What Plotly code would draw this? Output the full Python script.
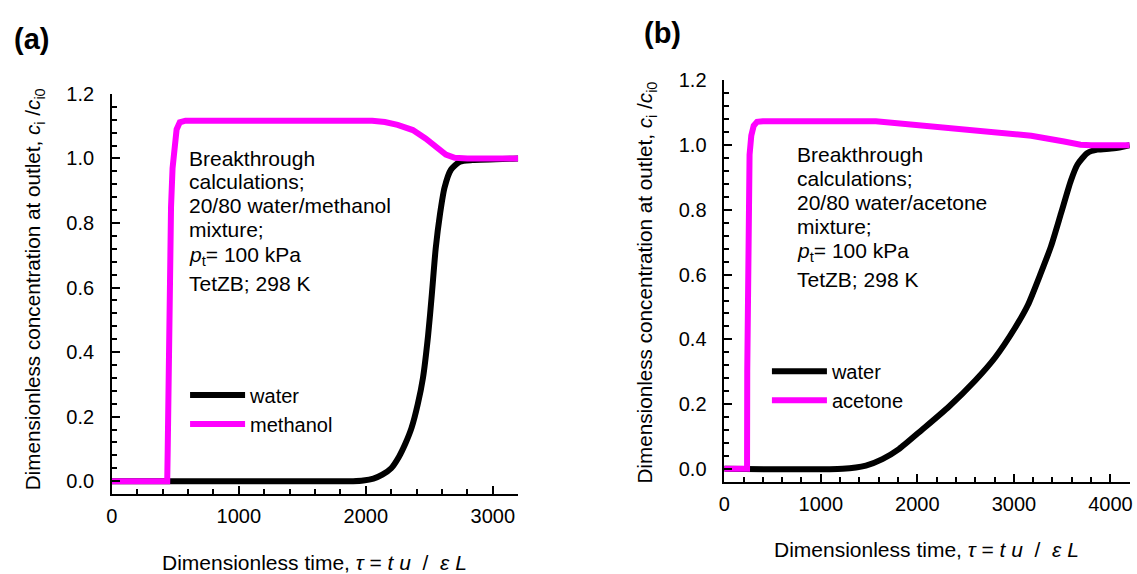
import plotly.graph_objects as go

W, H = 1137, 574

# ---- panel (a): 20/80 water/methanol, TetZB, 298 K ----
tau_a_water = [0, 1900, 1980, 2060, 2130, 2200, 2260, 2310, 2360, 2410, 2450,
               2490, 2520, 2550, 2585, 2620, 2670, 2740, 2840, 3200]
c_a_water = [0.0, 0.0, 0.002, 0.008, 0.02, 0.04, 0.075, 0.115, 0.165, 0.24, 0.32,
             0.45, 0.58, 0.72, 0.83, 0.91, 0.965, 0.99, 0.995, 1.0]

tau_a_methanol = [0, 436, 440, 447, 455, 466, 478, 492, 510, 535, 580, 2050,
                  2150, 2250, 2370, 2470, 2550, 2630, 2700, 2800, 3200]
c_a_methanol = [0.0, 0.0, 0.1, 0.35, 0.62, 0.85, 0.97, 1.04, 1.09, 1.112, 1.117, 1.117,
                1.113, 1.104, 1.088, 1.062, 1.035, 1.012, 1.002, 1.0, 1.0]

# ---- panel (b): 20/80 water/acetone, TetZB, 298 K ----
tau_b_water = [0, 1226, 1467, 1638, 1809, 2049, 2326, 2600, 2806, 3011, 3145,
               3282, 3385, 3488, 3590, 3659, 3762, 3864, 4036, 4200]
c_b_water = [0.0, 0.0, 0.01, 0.03, 0.061, 0.121, 0.192, 0.273, 0.344, 0.435, 0.506,
             0.607, 0.688, 0.789, 0.89, 0.94, 0.976, 0.986, 0.99, 1.0]

tau_b_acetone = [0, 236, 238, 242, 250, 262, 280, 305, 340, 400, 1570, 2150,
                 2840, 3180, 3520, 3690, 3800, 4200]
c_b_acetone = [0.0, 0.0, 0.3, 0.6, 0.85, 0.97, 1.03, 1.06, 1.072, 1.074, 1.074, 1.058,
               1.042, 1.029, 1.011, 1.001, 1.0, 1.0]

x_ticks_a = [0, 1000, 2000, 3000]
x_ticks_b = [0, 1000, 2000, 3000, 4000]
y_ticks = [0.0, 0.2, 0.4, 0.6, 0.8, 1.0, 1.2]
y_tick_labels = ["0.0", "0.2", "0.4", "0.6", "0.8", "1.0", "1.2"]

notes_a = ["Breakthrough", "calculations;", "20/80 water/methanol", "mixture;",
           "<i>p</i><sub>t</sub>= 100 kPa", "TetZB; 298 K"]
notes_b = ["Breakthrough", "calculations;", "20/80 water/acetone", "mixture;",
           "<i>p</i><sub>t</sub>= 100 kPa", "TetZB; 298 K"]

y_title = "Dimensionless concentration at outlet, <i>c</i><sub>i</sub> /<i>c</i><sub>i0</sub>"
x_title = "Dimensionless time, <i>τ</i> = <i>t</i> <i>u</i>  /  <i>ε</i> <i>L</i>"

FONT = "Liberation Sans, Arial, sans-serif"
BLACK = "#000000"
MAGENTA = "#FF00FF"


def fx(px):
    return px / W


def fy(py):
    return 1 - py / H


fig = go.Figure()

# water curves are smooth S-shapes; the co-adsorbate curves have a sharp front
water_style = dict(color=BLACK, width=6, shape="spline", smoothing=0.6)
front_style = dict(color=MAGENTA, width=6, shape="linear")

fig.add_trace(go.Scatter(x=tau_a_water, y=c_a_water, mode="lines", name="water",
                         line=water_style, xaxis="x", yaxis="y", legend="legend"))
fig.add_trace(go.Scatter(x=tau_a_methanol, y=c_a_methanol, mode="lines", name="methanol",
                         line=front_style, xaxis="x", yaxis="y", legend="legend"))
fig.add_trace(go.Scatter(x=tau_b_water, y=c_b_water, mode="lines", name="water",
                         line=water_style, xaxis="x2", yaxis="y2", legend="legend2"))
fig.add_trace(go.Scatter(x=tau_b_acetone, y=c_b_acetone, mode="lines", name="acetone",
                         line=front_style, xaxis="x2", yaxis="y2", legend="legend2"))

axis_common = dict(
    showline=True, linecolor=BLACK, linewidth=1.5, showgrid=False, zeroline=False,
    ticks="inside", ticklen=8, tickwidth=1.5, tickcolor=BLACK,
    tickfont=dict(family=FONT, size=20, color=BLACK),
)
x_minor = dict(dtick=200, tick0=0, ticks="inside", ticklen=5, tickwidth=1.5, tickcolor=BLACK)
y_minor = dict(dtick=0.04, tick0=0, ticks="inside", ticklen=5, tickwidth=1.5, tickcolor=BLACK)
legend_common = dict(xanchor="left", yanchor="top", bgcolor="rgba(0,0,0,0)",
                     font=dict(family=FONT, size=20, color=BLACK),
                     itemwidth=55, tracegroupgap=0)

fig.update_layout(
    width=W, height=574,
    margin=dict(l=0, r=0, t=0, b=0),
    paper_bgcolor="white", plot_bgcolor="white",
    font=dict(family=FONT, color=BLACK),
    xaxis=dict(domain=[fx(106.7), fx(516.3)], range=[0, 3200], anchor="y",
               tickvals=x_ticks_a, ticktext=[str(v) for v in x_ticks_a],
               minor=x_minor, ticklabelstandoff=3, **axis_common),
    yaxis=dict(domain=[fy(492.5), fy(84.5)], range=[-0.04, 1.2001], anchor="x",
               tickvals=y_ticks, ticktext=y_tick_labels,
               minor=y_minor, ticklabelstandoff=12, **axis_common),
    xaxis2=dict(domain=[fx(724), fx(1132.7)], range=[0, 4200], anchor="y2",
                tickvals=x_ticks_b, ticktext=[str(v) for v in x_ticks_b],
                minor=x_minor, ticklabelstandoff=3, **axis_common),
    yaxis2=dict(domain=[fy(480), fy(70.7)], range=[-0.04, 1.2001], anchor="x2",
                tickvals=y_ticks, ticktext=y_tick_labels,
                minor=y_minor, ticklabelstandoff=12, **axis_common),
    legend=dict(x=fx(180.5), y=fy(371.5), **legend_common),
    legend2=dict(x=fx(767), y=fy(347.5), **legend_common),
)

annotations = []

# panel letters
for label, cx, cy in [("(a)", 26, 29), ("(b)", 662, 22)]:
    annotations.append(dict(text=f"<b>{label}</b>", x=fx(cx), y=fy(cy), xref="paper",
                            yref="paper", xanchor="center", yanchor="middle", showarrow=False,
                            font=dict(family=FONT, size=29, color=BLACK)))

# axis titles
for cx, cy in [(28, 284), (645, 277)]:
    annotations.append(dict(text=y_title, x=fx(cx), y=fy(cy), xref="paper", yref="paper",
                            xanchor="center", yanchor="middle", textangle=-90,
                            showarrow=False, font=dict(family=FONT, size=20.7, color=BLACK)))
for cx, cy in [(311, 562), (928, 549)]:
    annotations.append(dict(text=x_title, x=fx(cx), y=fy(cy), xref="paper", yref="paper",
                            xanchor="center", yanchor="middle", showarrow=False,
                            font=dict(family=FONT, size=21, color=BLACK)))

# condition notes inside each panel
rows_a = [150, 174.3, 198.3, 222.7, 249.5, 277.7]
rows_b = [146.7, 170.7, 195, 219.3, 246.1, 274]
for left, rows, lines in [(182, rows_a, notes_a), (795.5, rows_b, notes_b)]:
    for ry, line in zip(rows, lines):
        annotations.append(dict(text=line, x=fx(left), y=fy(ry), xref="paper", yref="paper",
                                xanchor="left", yanchor="middle", showarrow=False,
                                font=dict(family=FONT, size=21, color=BLACK)))

fig.update_layout(annotations=annotations)

fig.write_html("out.html")
